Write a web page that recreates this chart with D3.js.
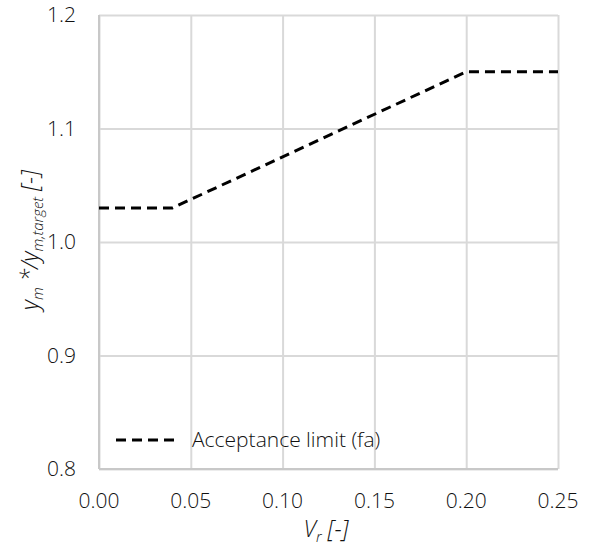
<!DOCTYPE html>
<html>
<head>
<meta charset="utf-8">
<script src="https://cdn.jsdelivr.net/npm/d3@7"></script>
<style>
  body { margin: 0; background: #fff; }
  text { font-family: "Open Sans", "Noto Sans", sans-serif; font-weight: 300; fill: #111; }
</style>
</head>
<body>
<svg id="chart" width="592" height="547"></svg>
<script>
// acceptance limit (fa)
var vr = [0.00, 0.04, 0.20, 0.25];
var ratio = [1.03, 1.03, 1.15, 1.15];
var xTicks = [0, 0.05, 0.10, 0.15, 0.20, 0.25];
var yTicks = [0.8, 0.9, 1.0, 1.1, 1.2];
var seriesName = "Acceptance limit (fa)";

var pLeft = 99, pRight = 558, pTop = 15, pBottom = 469;

var svg = d3.select("#chart");

var x = d3.scaleLinear().domain([0, 0.25]).range([pLeft, pRight]);
var y = d3.scaleLinear().domain([0.8, 1.2]).range([pBottom, pTop]);

// grid
svg.append("g")
  .attr("transform", "translate(0," + pBottom + ")")
  .call(d3.axisBottom(x).tickValues(xTicks).tickSize(-(pBottom - pTop)).tickFormat(""))
  .call(function(g){
    g.select(".domain").remove();
    g.selectAll("line").attr("stroke", "#d9d9d9").attr("stroke-width", 2);
  });

svg.append("g")
  .attr("transform", "translate(" + pLeft + ",0)")
  .call(d3.axisLeft(y).tickValues(yTicks).tickSize(-(pRight - pLeft)).tickFormat(""))
  .call(function(g){
    g.select(".domain").remove();
    g.selectAll("line").attr("stroke", "#d9d9d9").attr("stroke-width", 2);
  });

// axis lines
svg.append("line").attr("x1", pLeft).attr("x2", pLeft).attr("y1", pTop).attr("y2", pBottom)
  .attr("stroke", "#c8c8c8").attr("stroke-width", 2);
svg.append("line").attr("x1", pLeft).attr("x2", pRight).attr("y1", pBottom).attr("y2", pBottom)
  .attr("stroke", "#c8c8c8").attr("stroke-width", 2);

// tick labels
svg.selectAll(".xl").data(xTicks).enter().append("text")
  .attr("x", function(d){ return x(d); })
  .attr("y", 508)
  .attr("text-anchor", "middle")
  .style("font-size", "21px")
  .text(function(d){ return d3.format(".2f")(d); });

svg.selectAll(".yl").data(yTicks).enter().append("text")
  .attr("x", 76)
  .attr("y", function(d){ return y(d) + 7; })
  .attr("text-anchor", "end")
  .style("font-size", "21px")
  .text(function(d){ return d3.format(".1f")(d); });

// line
var line = d3.line().x(function(d, i){ return x(vr[i]); }).y(function(d){ return y(d); });
svg.append("path")
  .attr("d", line(ratio))
  .attr("fill", "none")
  .attr("stroke", "#000")
  .attr("stroke-width", 3)
  .attr("stroke-dasharray", "10,6");

// legend
svg.append("line").attr("x1", 116).attr("x2", 180).attr("y1", 440).attr("y2", 440)
  .attr("stroke", "#000").attr("stroke-width", 3).attr("stroke-dasharray", "10,6");
svg.append("text").attr("x", 192).attr("y", 447).style("font-size", "21px").text(seriesName);

// axis titles
var xt = svg.append("text").attr("x", 326).attr("y", 537).attr("text-anchor", "middle")
  .style("font-size", "23px").style("font-style", "italic");
xt.append("tspan").text("V");
xt.append("tspan").attr("dy", 5).style("font-size", "15px").text("r");
xt.append("tspan").attr("dy", -5).text(" [-]");

var yt = svg.append("text").attr("transform", "translate(38,240) rotate(-90)")
  .attr("text-anchor", "middle").style("font-size", "23px").style("font-style", "italic");
yt.append("tspan").text("y");
yt.append("tspan").attr("dy", 5).style("font-size", "15px").text("m");
yt.append("tspan").attr("dy", -5).text(" */y");
yt.append("tspan").attr("dy", 5).style("font-size", "15px").text("m,target");
yt.append("tspan").attr("dy", -5).text(" [-]");
</script>
</body>
</html>
